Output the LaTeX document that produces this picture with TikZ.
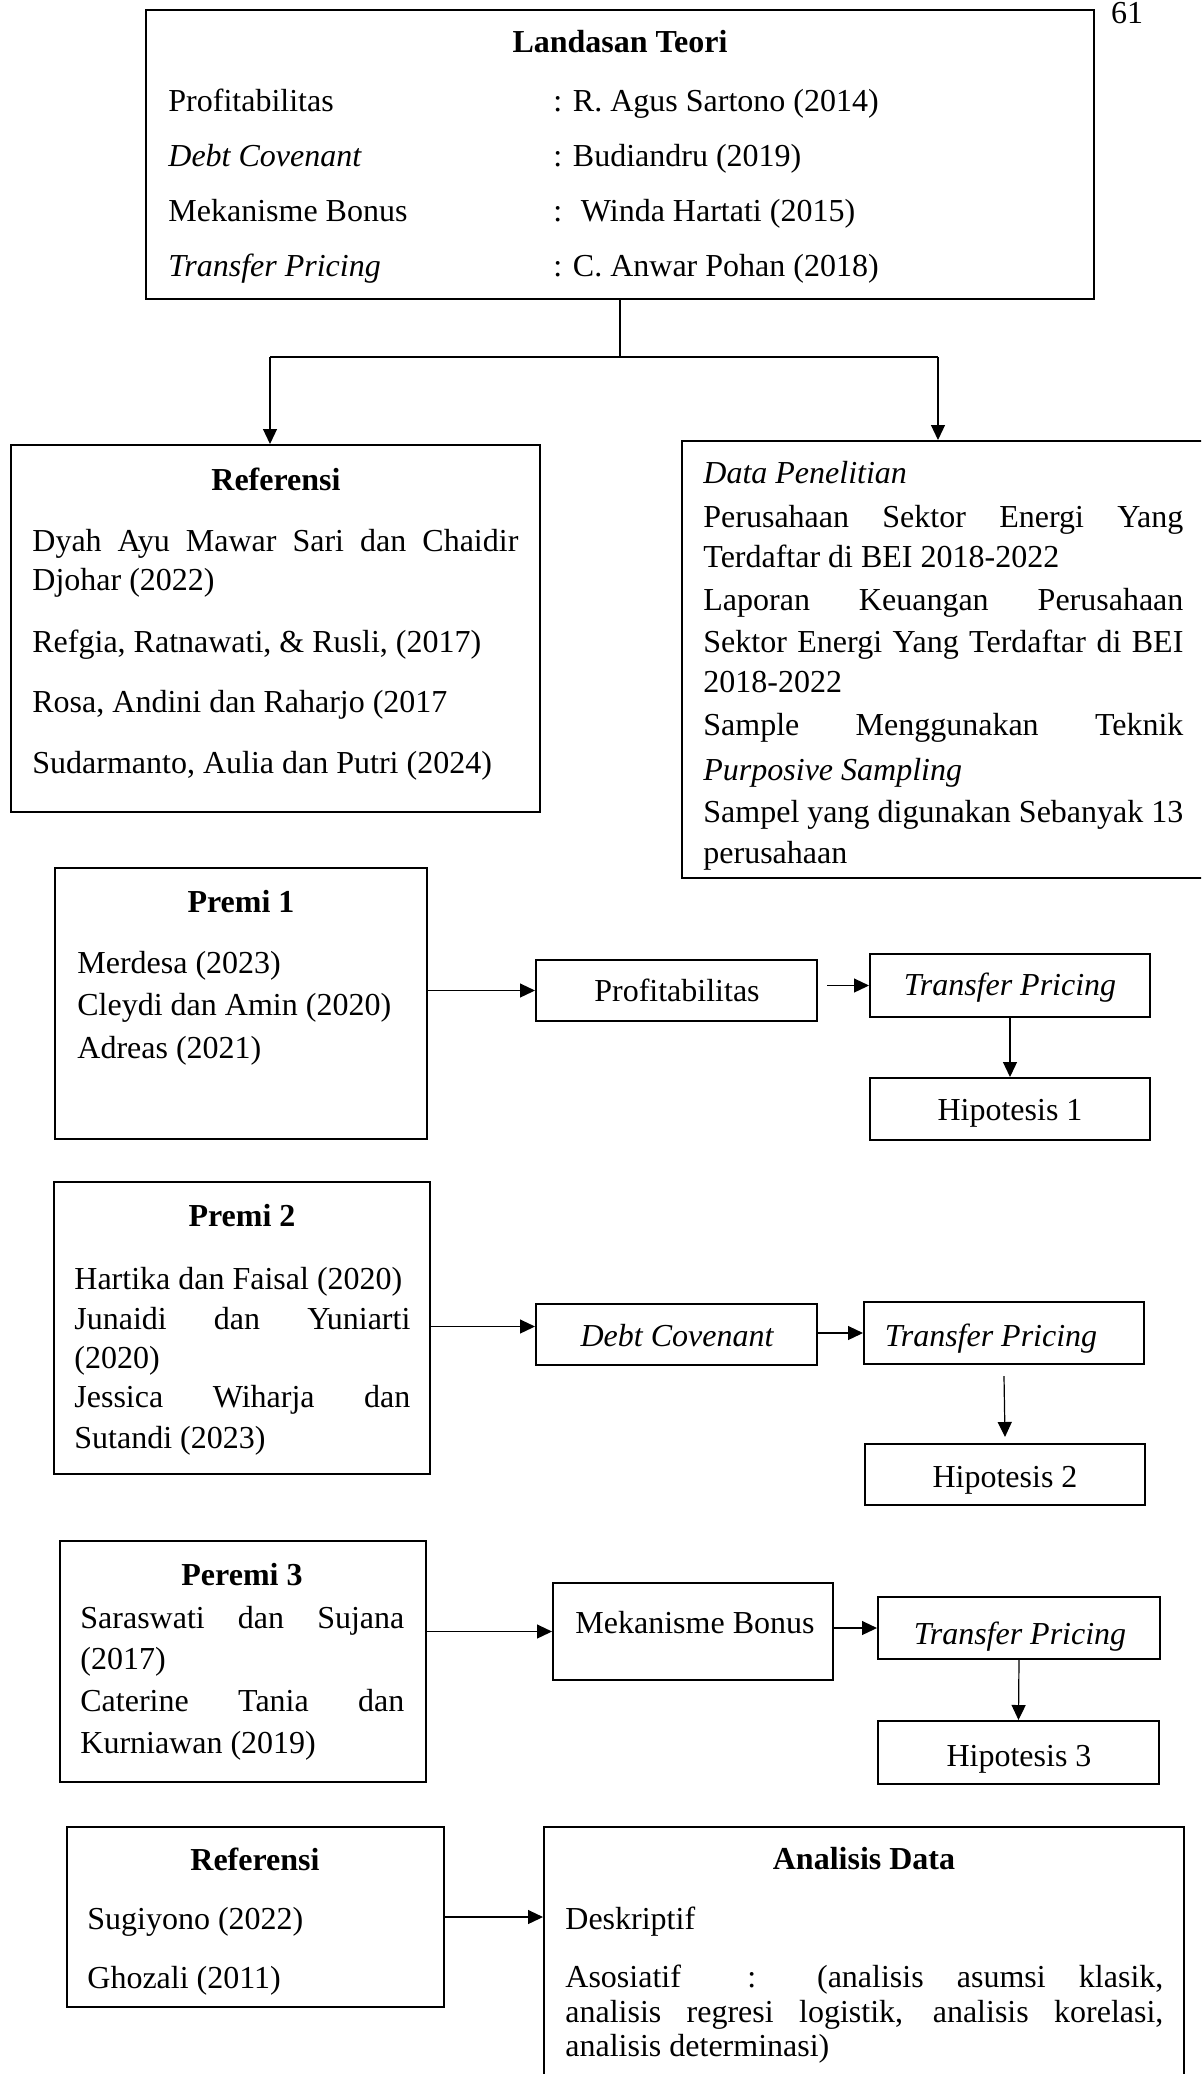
\documentclass[tikz,border=0pt]{standalone}
\usepackage{fontspec}
\setmainfont{Liberation Serif}
\usetikzlibrary{fit,arrows.meta}
\begin{document}
\begin{tikzpicture}[x=0.5pt,y=-0.5pt,
  every node/.style={font=\fontsize{16}{20}\selectfont},
  box/.style={draw, line width=1pt, inner sep=0pt},
  txt/.style={anchor=base west, inner sep=0pt},
  ctr/.style={anchor=base, inner sep=0pt},
  plain/.style={line width=0.6pt},
  arr/.style={-{Triangle[length=7.5pt,width=7pt]}, line width=0.6pt}]
\path[use as bounding box, clip] (0,0) rectangle (1201,2074);

% page number
\node[ctr] (pg) at (1127,23) {61};

% Landasan Teori
\node[box, fit={(146,10) (1094,299)}] (lt) {};
\node[ctr] (ltt) at (620,52) {\bfseries Landasan Teori};
\node[txt] (lt1) at (168,111) {Profitabilitas};
\node[txt] (lt2) at (168,166) {\itshape Debt Covenant};
\node[txt] (lt3) at (168,221) {Mekanisme Bonus};
\node[txt] (lt4) at (168,276) {\itshape Transfer Pricing};
\node[txt] (lr1) at (553,111) {: R. Agus Sartono (2014)};
\node[txt] (lr2) at (553,166) {: Budiandru (2019)};
\node[txt] (lr3) at (553,221) {:~ Winda Hartati (2015)};
\node[txt] (lr4) at (553,276) {: C. Anwar Pohan (2018)};

% Referensi 1
\node[box, fit={(11,445) (540,812)}] (ref1) {};
\node[ctr] (ref1t) at (276,490) {\bfseries Referensi};
\node[txt] (r11) at (32,551) {\makebox[243pt][s]{Dyah Ayu Mawar Sari dan Chaidir}};
\node[txt] (r12) at (32,590) {Djohar (2022)};
\node[txt] (r13) at (32,652) {Refgia, Ratnawati, \& Rusli, (2017)};
\node[txt] (r14) at (32,712) {Rosa, Andini dan Raharjo (2017};
\node[txt] (r15) at (32,773) {Sudarmanto, Aulia dan Putri (2024)};

% Data Penelitian
\node[box, fit={(682,441) (1215,878)}] (data) {};
\node[txt] (d1) at (703,483) {\itshape Data Penelitian};
\node[txt] (d2) at (703,527) {\makebox[240pt][s]{Perusahaan Sektor Energi Yang}};
\node[txt] (d3) at (703,567) {Terdaftar di BEI 2018-2022};
\node[txt] (d4) at (703,610) {\makebox[240pt][s]{Laporan Keuangan Perusahaan}};
\node[txt] (d5) at (703,652) {\makebox[240pt][s]{Sektor Energi Yang Terdaftar di BEI}};
\node[txt] (d6) at (703,692) {2018-2022};
\node[txt] (d7) at (703,735) {\makebox[240pt][s]{Sample Menggunakan Teknik}};
\node[txt] (d8) at (703,780) {\itshape Purposive Sampling};
\node[txt] (d9) at (703,822) {\makebox[240pt][s]{Sampel yang digunakan Sebanyak 13}};
\node[txt] (d10) at (703,863) {perusahaan};

% connectors from Landasan Teori
\coordinate (jm) at (620,357);
\coordinate (jl) at (270,357);
\coordinate (jr) at (938,357);
\draw[plain] (lt.south) -- (jm);
\draw[plain] (jl) -- (jr);
\draw[arr] (jl) -- (jl |- ref1.north);
\draw[arr] (jr) -- (jr |- data.north);

% Premi 1 row
\node[box, fit={(55,868) (427,1139)}] (p1) {};
\node[ctr] (p1t) at (241,912) {\bfseries Premi 1};
\node[txt] (p11) at (77,973) {Merdesa (2023)};
\node[txt] (p12) at (77,1015) {Cleydi dan Amin (2020)};
\node[txt] (p13) at (77,1058) {Adreas (2021)};
\node[box, fit={(536,960) (817,1021)}] (prof) {};
\node[ctr] (proft) at (677,1001) {Profitabilitas};
\node[box, fit={(870,954) (1150,1017)}] (tp1) {};
\node[ctr] (tp1t) at (1010,995) {\itshape Transfer Pricing};
\node[box, fit={(870,1078) (1150,1140)}] (h1) {};
\node[ctr] (h1t) at (1010,1120) {Hipotesis 1};
\draw[arr] (p1.east |- prof.west) -- (prof.west);
\draw[arr] ([xshift=4.5pt]prof.east |- tp1.west) -- (tp1.west);
\draw[arr] (tp1.south) -- (h1.north);

% Premi 2 row
\node[box, fit={(54,1182) (430,1474)}] (p2) {};
\node[ctr] (p2t) at (242,1226) {\bfseries Premi 2};
\node[txt] (p21) at (74,1289) {Hartika dan Faisal (2020)};
\node[txt] (p22) at (74,1329) {\makebox[168pt][s]{Junaidi dan Yuniarti}};
\node[txt] (p23) at (74,1368) {(2020)};
\node[txt] (p24) at (74,1407) {\makebox[168pt][s]{Jessica Wiharja dan}};
\node[txt] (p25) at (74,1448) {Sutandi (2023)};
\node[box, fit={(536,1304) (817,1365)}] (dc) {};
\node[ctr] (dct) at (677,1346) {\itshape Debt Covenant};
\node[box, fit={(864,1302) (1144,1364)}] (tp2) {};
\node[ctr] (tp2t) at (991,1346) {\itshape Transfer Pricing};
\node[box, fit={(865,1444) (1145,1505)}] (h2) {};
\node[ctr] (h2t) at (1005,1487) {Hipotesis 2};
\coordinate (a2) at ([yshift=4pt]dc.west);
\draw[arr] (a2 -| p2.east) -- (a2);
\draw[arr] (dc.east |- tp2.west) -- (tp2.west);
\draw[arr] ([yshift=-5.5pt]tp2.south) -- ([yshift=3pt]h2.north);

% Peremi 3 row
\node[box, fit={(60,1541) (426,1782)}] (p3) {};
\node[ctr] (p3t) at (242,1585) {\bfseries Peremi 3};
\node[txt] (p31) at (80,1628) {\makebox[162pt][s]{Saraswati dan Sujana}};
\node[txt] (p32) at (80,1669) {(2017)};
\node[txt] (p33) at (80,1711) {\makebox[162pt][s]{Caterine Tania dan}};
\node[txt] (p34) at (80,1753) {Kurniawan (2019)};
\node[box, fit={(553,1583) (833,1680)}] (mb) {};
\node[ctr] (mbt) at (695,1633) {Mekanisme Bonus};
\node[box, fit={(878,1597) (1160,1659)}] (tp3) {};
\node[ctr] (tp3t) at (1020,1644) {\itshape Transfer Pricing};
\node[box, fit={(878,1721) (1159,1784)}] (h3) {};
\node[ctr] (h3t) at (1019,1766) {Hipotesis 3};
\draw[arr] (p3.east |- mb.west) -- (mb.west);
\draw[arr] (mb.east |- tp3.west) -- (tp3.west);
\draw[arr] (tp3.south) -- (h3.north);

% Referensi 2 and Analisis Data
\node[box, fit={(67,1827) (444,2007)}] (ref2) {};
\node[ctr] (ref2t) at (255,1870) {\bfseries Referensi};
\node[txt] (r21) at (87,1929) {Sugiyono (2022)};
\node[txt] (r22) at (87,1988) {Ghozali (2011)};
\node[box, fit={(544,1827) (1184,2095)}] (ad) {};
\node[ctr] (adt) at (864,1869) {\bfseries Analisis Data};
\node[txt] (ad1) at (565,1929) {Deskriptif};
\node[txt] (ad2) at (565,1987) {\makebox[299pt][s]{Asosiatif {} : (analisis asumsi klasik,}};
\node[txt] (ad3) at (565,2022) {\makebox[299pt][s]{analisis regresi logistik, analisis korelasi,}};
\node[txt] (ad4) at (565,2056) {analisis determinasi)};
\draw[arr] (ref2.east) -- (ref2.east -| ad.west);
\end{tikzpicture}
\end{document}
